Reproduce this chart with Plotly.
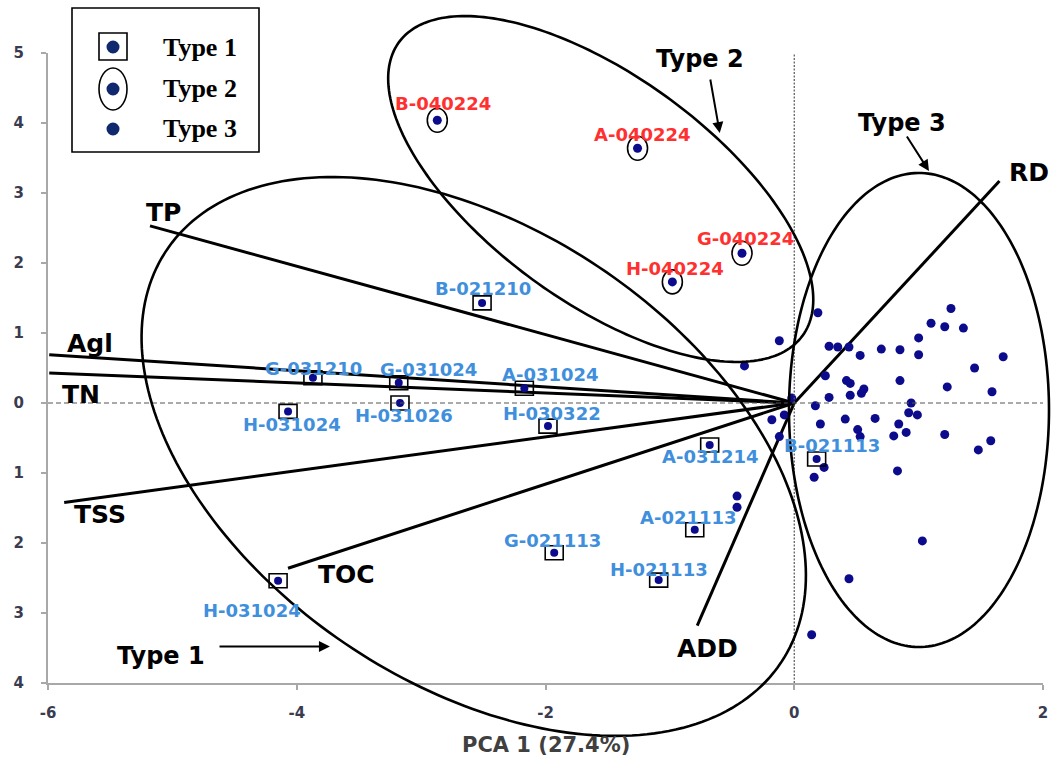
import numpy as np
import plotly.graph_objects as go

# ---------------- data ----------------
t1_names = ["B-021210", "G-031210", "G-031024", "A-031024", "H-031024", "H-031026",
            "H-030322", "A-031214", "B-021113", "A-021113", "G-021113", "H-021113", "H-031024"]
t1_x = [-2.51, -3.87, -3.18, -2.17, -4.07, -3.17, -1.98, -0.68, 0.18, -0.80, -1.93, -1.09, -4.15]
t1_y = [1.43, 0.36, 0.29, 0.21, -0.12, 0.00, -0.33, -0.60, -0.80, -1.81, -2.14, -2.53, -2.54]

t2_names = ["B-040224", "A-040224", "G-040224", "H-040224"]
t2_x = [-2.87, -1.26, -0.42, -0.98]
t2_y = [4.04, 3.64, 2.14, 1.73]

t3_x = [1.26, 1.10, 1.21, 1.36, 1.00, 0.19, -0.12, -0.40, 0.28, 0.35, 0.44, 0.53, 0.70, 0.85,
        1.00, 1.68, 1.45, 0.25, 0.42, 0.45, 0.85, 1.23, 1.59, 0.56, 0.54, 0.45, 0.28, -0.02,
        0.17, 0.94, 0.92, 0.99, -0.18, -0.08, 0.21, 0.41, 0.65, 0.84, 0.51, 0.90, 0.80, 0.53,
        1.21, -0.12, 1.58, 1.48, 0.24, 0.16, 0.83, -0.46, -0.46, 1.03, 0.44, 0.14]
t3_y = [1.35, 1.14, 1.09, 1.07, 0.93, 1.29, 0.89, 0.53, 0.81, 0.80, 0.80, 0.68, 0.77, 0.76,
        0.69, 0.66, 0.50, 0.39, 0.32, 0.28, 0.32, 0.23, 0.16, 0.20, 0.14, 0.11, 0.08, 0.07,
        -0.04, 0.00, -0.14, -0.17, -0.24, -0.17, -0.30, -0.23, -0.22, -0.30, -0.38, -0.42,
        -0.47, -0.48, -0.45, -0.48, -0.54, -0.67, -0.92, -1.06, -0.97, -1.33, -1.49, -1.97,
        -2.51, -3.31]

load_names = ["TP", "Agl", "TN", "TSS", "TOC", "ADD", "RD"]
load_x = [-5.18, -5.99, -5.99, -5.87, -4.07, -0.78, 1.65]
load_y = [2.53, 0.69, 0.43, -1.42, -2.36, -3.18, 3.17]

x_ticks = [-6, -4, -2, 0, 2]
x_ticktext = ["-6", "-4", "-2", "0", "2"]
y_ticks = [-4, -3, -2, -1, 0, 1, 2, 3, 4, 5]
y_ticktext = ["4", "3", "2", "1", "0", "1", "2", "3", "4", "5"]
x_title = "PCA 1 (27.4%)"
legend_labels = ["Type 1", "Type 2", "Type 3"]

# ---------------- layout constants ----------------
W, H = 1051, 760
PL, PT, PW, PH = 48, 53, 995, 630
XR, YR = [-6, 2], [-4, 5]
NAVY = "#0b0b8c"
BLUE = "#3f8fdc"
RED = "#ff3030"
FONT = "DejaVu Sans"

# label offsets in pixels (dx right, dy down)
t1_off = [(1, -14), (1, -9), (30, -13), (26, -14), (4, 13), (4, 12), (4, -13),
          (1, 11), (15, -14), (-6, -12), (-2, -12), (0, -11), (-26, 30)]
t2_off = [(6, -17), (5, -14), (3, -15), (3, -13)]
load_off = [(14, -13), (41, -11), (32, 22), (36, 12), (58, 6), (10, 23), (30, -9)]


def data2px(x, y):
    return (PL + (x - XR[0]) / (XR[1] - XR[0]) * PW,
            PT + (YR[1] - y) / (YR[1] - YR[0]) * PH)


def px2paper(px, py):
    return ((px - PL) / PW, (PT + PH - py) / PH)


def ellipse_path(cx, cy, a, b, ang):
    cxp, cyp = data2px(cx, cy)
    th = np.deg2rad(ang)
    t = np.linspace(0, 2 * np.pi, 240)
    X = cxp + a * np.cos(th) * np.cos(t) - b * np.sin(th) * np.sin(t)
    Y = cyp + a * np.sin(th) * np.cos(t) + b * np.cos(th) * np.sin(t)
    pts = [px2paper(u, v) for u, v in zip(X, Y)]
    return "M " + " L ".join(f"{u:.5f},{v:.5f}" for u, v in pts) + " Z"


fig = go.Figure()

# loading vectors
lx, ly = [], []
for x, y in zip(load_x, load_y):
    lx += [0, x, None]
    ly += [0, y, None]
fig.add_trace(go.Scatter(x=lx, y=ly, mode="lines", line=dict(color="black", width=3),
                         hoverinfo="skip", showlegend=False))

# points
fig.add_trace(go.Scatter(x=t3_x, y=t3_y, mode="markers",
                         marker=dict(color=NAVY, size=9), showlegend=False))
fig.add_trace(go.Scatter(x=t1_x, y=t1_y, mode="markers",
                         marker=dict(color=NAVY, size=8), showlegend=False))
fig.add_trace(go.Scatter(x=t2_x, y=t2_y, mode="markers",
                         marker=dict(color=NAVY, size=9), showlegend=False))

shapes = []
# zero dashed lines
shapes.append(dict(type="line", xref="x", yref="y", x0=0, x1=0, y0=YR[0], y1=YR[1],
                   line=dict(color="#555555", width=1.2, dash="2px,1.5px")))
shapes.append(dict(type="line", xref="x", yref="y", x0=XR[0], x1=XR[1], y0=0, y1=0,
                   line=dict(color="#555555", width=1, dash="5px,3px")))

# boxes around type 1, ellipses around type 2
for x, y in zip(t1_x, t1_y):
    shapes.append(dict(type="rect", xref="x", yref="y", xsizemode="pixel", ysizemode="pixel",
                       xanchor=x, yanchor=y, x0=-9, x1=9, y0=-7, y1=7,
                       line=dict(color="black", width=1.6)))
for x, y in zip(t2_x, t2_y):
    shapes.append(dict(type="circle", xref="x", yref="y", xsizemode="pixel", ysizemode="pixel",
                       xanchor=x, yanchor=y, x0=-10, x1=10, y0=-12, y1=12,
                       line=dict(color="black", width=1.6)))

# group ellipses (centre in data units, semi-axes in px, rotation in degrees)
groups = [dict(cx=-2.577, cy=-0.764, a=370, b=227, ang=33.9),
          dict(cx=-1.556, cy=3.057, a=249.5, b=113.3, ang=36),
          dict(cx=1.003, cy=-0.10, a=130, b=237, ang=0)]
for g in groups:
    shapes.append(dict(type="path", xref="paper", yref="paper", path=ellipse_path(**g),
                       line=dict(color="black", width=2.6)))


# legend box
def prect(x0, y0, x1, y1, **kw):
    a = px2paper(x0, y0)
    b = px2paper(x1, y1)
    d = dict(xref="paper", yref="paper", x0=a[0], y0=b[1], x1=b[0], y1=a[1])
    d.update(kw)
    return d


shapes.append(prect(72, 8, 259, 152, type="rect", line=dict(color="black", width=1.6),
                    fillcolor="white"))
LNAVY = "#10286e"
shapes.append(prect(99, 33, 127, 60, type="rect", line=dict(color="black", width=1.6)))
shapes.append(prect(99, 68, 127, 110, type="circle", line=dict(color="black", width=1.6)))
for cy in (47, 89, 129):
    shapes.append(prect(106.5, cy - 6.5, 119.5, cy + 6.5, type="circle",
                        line=dict(color=LNAVY, width=0), fillcolor=LNAVY))

annotations = []
# sample labels
for n, x, y, (dx, dy) in zip(t1_names, t1_x, t1_y, t1_off):
    annotations.append(dict(x=x, y=y, xref="x", yref="y", text=n, showarrow=False,
                            xshift=dx, yshift=-dy, xanchor="center", yanchor="middle",
                            font=dict(family=FONT, size=18, color=BLUE, weight="bold")))
for n, x, y, (dx, dy) in zip(t2_names, t2_x, t2_y, t2_off):
    annotations.append(dict(x=x, y=y, xref="x", yref="y", text=n, showarrow=False,
                            xshift=dx, yshift=-dy, xanchor="center", yanchor="middle",
                            font=dict(family=FONT, size=18, color=RED, weight="bold")))
for n, x, y, (dx, dy) in zip(load_names, load_x, load_y, load_off):
    annotations.append(dict(x=x, y=y, xref="x", yref="y", text=n, showarrow=False,
                            xshift=dx, yshift=-dy, xanchor="center", yanchor="middle",
                            font=dict(family=FONT, size=25, color="black", weight="bold")))

# group labels and arrows
for txt, tx, ty in [("Type 1", -5.094, -3.61), ("Type 2", -0.758, 4.914), ("Type 3", 0.864, 4.0)]:
    annotations.append(dict(x=tx, y=ty, xref="x", yref="y", text=txt, showarrow=False,
                            xanchor="center", yanchor="middle",
                            font=dict(family=FONT, size=24, color="black", weight="bold")))
for (x0, y0, x1, y1) in [(-4.633, -3.48, -3.733, -3.48), (-0.677, 4.643, -0.599, 3.857),
                         (0.898, 3.829, 1.083, 3.314)]:
    annotations.append(dict(x=x1, y=y1, ax=x0, ay=y0, xref="x", yref="y", axref="x", ayref="y",
                            text="", showarrow=True, arrowhead=2, arrowsize=1.1,
                            arrowwidth=2, arrowcolor="black"))

# legend texts
for lab, cy in zip(legend_labels, (47, 88, 128)):
    px_, py_ = px2paper(161, cy)
    annotations.append(dict(x=px_, y=py_, xref="paper", yref="paper", text=lab,
                            showarrow=False, xanchor="left", yanchor="middle",
                            font=dict(family="Liberation Serif", size=26, color="black",
                                      weight="bold")))

# x title
tx_, ty_ = px2paper(545.5, 745)
annotations.append(dict(x=tx_, y=ty_, xref="paper", yref="paper", text=x_title,
                        showarrow=False, xanchor="center", yanchor="middle",
                        font=dict(family=FONT, size=21, color="#404040", weight="bold")))

tickfont = dict(family=FONT, size=15, color="#3b3b50", weight="bold")
fig.update_layout(
    width=W, height=H,
    margin=dict(l=PL, r=W - PL - PW, t=PT, b=H - PT - PH, pad=0, autoexpand=False),
    paper_bgcolor="white", plot_bgcolor="white",
    shapes=shapes, annotations=annotations, showlegend=False,
    xaxis=dict(range=XR, tickvals=x_ticks, ticktext=x_ticktext, showgrid=False,
               zeroline=False, showline=True, linecolor="#a8a8a8", linewidth=2,
               ticks="outside", ticklen=5, tickwidth=2, tickcolor="#a8a8a8",
               tickfont=tickfont, ticklabelstandoff=10, automargin=False),
    yaxis=dict(range=YR, tickvals=y_ticks, ticktext=y_ticktext, showgrid=False,
               zeroline=False, showline=True, linecolor="#a8a8a8", linewidth=2,
               ticks="outside", ticklen=5, tickwidth=2, tickcolor="#a8a8a8",
               tickfont=tickfont, ticklabelstandoff=14, automargin=False),
)

fig.write_html("out.html", config={"displayModeBar": False},
               post_script="document.body.style.margin='0';document.body.style.overflow='hidden';")
